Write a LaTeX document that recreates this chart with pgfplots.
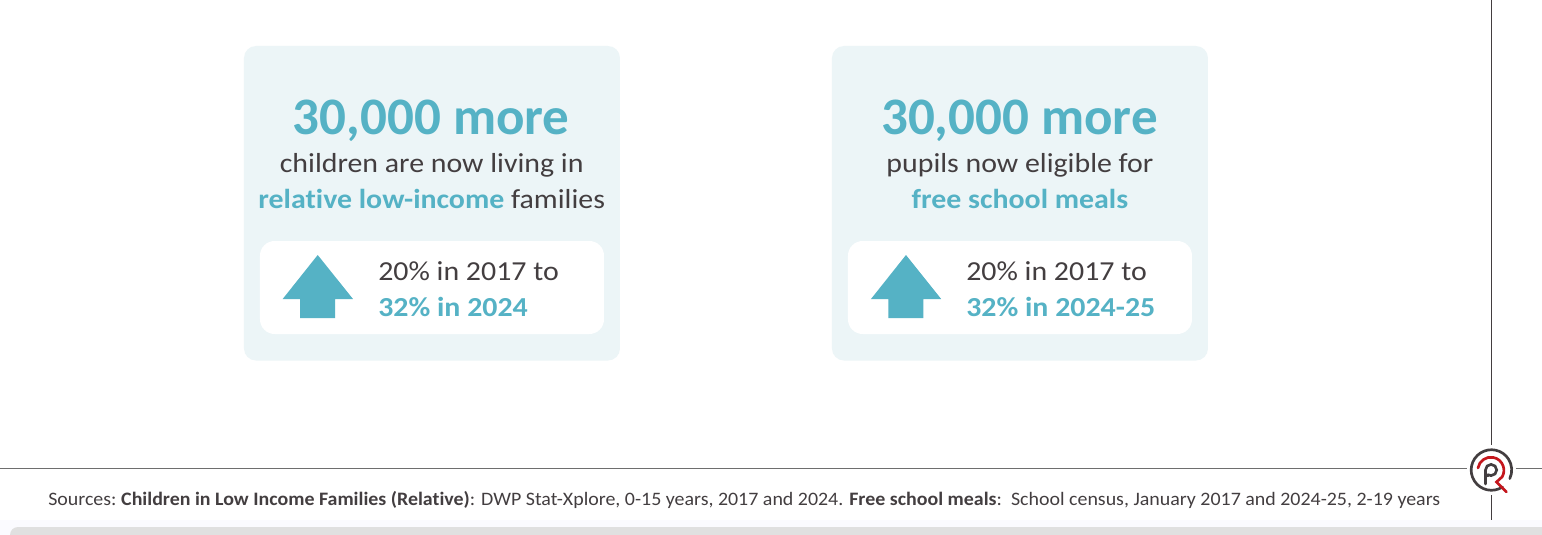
\documentclass[border=0pt]{standalone}
\usepackage{pgfplots}
\usepackage{fontspec}
\setmainfont{Carlito}
\newfontfamily\headf[FakeStretch=1.007,RawFeature=-liga]{Carlito}
\newfontfamily\bodyf[FakeStretch=1.088,RawFeature=-liga]{Carlito}
\newfontfamily\srcf[FakeStretch=1.049,RawFeature=-liga]{Carlito}
\pgfplotsset{compat=1.18}
\definecolor{teal}{HTML}{55B2C5}
\definecolor{boxbg}{HTML}{ECF5F7}
\definecolor{ink}{HTML}{433E40}
\definecolor{rulec}{HTML}{6E6E6E}
\definecolor{logored}{HTML}{C4161C}
\newcommand{\fs}[1]{\fontsize{#1}{#1}\selectfont}
\begin{document}
\begin{tikzpicture}[x=1pt,y=1pt]
\clip (0,0) rectangle (1156.5pt,401.25pt);
\begin{axis}[
  at={(0,0)},anchor=south west,scale only axis,
  width=1156.5pt,height=401.25pt,
  xmin=0,xmax=1542,ymin=0,ymax=535,y dir=reverse,
  axis line style={draw=none},ticks=none,clip=false]
% background strips
\fill[white] (axis cs:0,0) rectangle (axis cs:1542,535);
\fill[white!96!blue!40!white] (axis cs:-2,520) rectangle (axis cs:1545,535);
\fill[color=black!12!white,rounded corners=6pt] (axis cs:10,527) -- (axis cs:1550,527) -- (axis cs:1550,545) -- (axis cs:10,545) -- cycle;
% panels
\fill[boxbg,rounded corners=9pt] (axis cs:244,46) rectangle (axis cs:620,360.5);
\fill[boxbg,rounded corners=9pt] (axis cs:832,46) rectangle (axis cs:1208,360.5);
\fill[white,rounded corners=11pt] (axis cs:260,241) rectangle (axis cs:604,334);
\fill[white,rounded corners=11pt] (axis cs:848,241) rectangle (axis cs:1192,334);
% arrows
\addplot[draw=none,fill=teal] coordinates {(317.7,255) (353,299) (335.2,299) (335.2,318) (300.2,318) (300.2,299) (282.7,299) (317.7,255)};
\addplot[draw=none,fill=teal] coordinates {(906,255) (941.2,299) (923.5,299) (923.5,318) (888.5,318) (888.5,299) (871,299) (906,255)};
% panel 1 text
\node[text=teal,font=\headf\fs{39.5}\bfseries,anchor=base] at (axis cs:431.3,134) {30,000 more};
\node[text=ink,font=\bodyf\fs{20.6},anchor=base] at (axis cs:431.7,172) {children are now living in};
\node[text=ink,font=\bodyf\fs{20.6},anchor=base] at (axis cs:431.7,208) {\textcolor{teal}{\bfseries relative low-income} families};
\node[text=ink,font=\bodyf\fs{20.6},anchor=base west,inner sep=0pt] at (axis cs:378,280) {20\% in 2017 to};
\node[text=teal,font=\bodyf\fs{20.6}\bfseries,anchor=base west,inner sep=0pt] at (axis cs:378,316) {32\% in 2024};
% panel 2 text
\node[text=teal,font=\headf\fs{39.5}\bfseries,anchor=base] at (axis cs:1019.5,134) {30,000 more};
\node[text=ink,font=\bodyf\fs{20.6},anchor=base] at (axis cs:1020,172) {pupils now eligible for};
\node[text=teal,font=\bodyf\fs{20.6}\bfseries,anchor=base] at (axis cs:1020,208) {free school meals};
\node[text=ink,font=\bodyf\fs{20.6},anchor=base west,inner sep=0pt] at (axis cs:966,280) {20\% in 2017 to};
\node[text=teal,font=\bodyf\fs{20.6}\bfseries,anchor=base west,inner sep=0pt] at (axis cs:966,316) {32\% in 2024-25};
% rules
\draw[rulec,line width=0.9pt] (axis cs:-2,468.3) -- (axis cs:1467,468.3);
\draw[rulec,line width=0.9pt] (axis cs:1516,468.3) -- (axis cs:1545,468.3);
\draw[ink,line width=0.9pt] (axis cs:1491.4,-2) -- (axis cs:1491.4,445);
\draw[ink,line width=0.9pt] (axis cs:1491.4,495) -- (axis cs:1491.4,520);
% logo
\draw[ink,line width=2pt,line cap=round] (axis cs:1502.5,487) arc[start angle=-57,end angle=-385,radius=15.2pt];
\draw[logored,line width=2pt,line cap=round] (axis cs:1478,468) arc[start angle=170,end angle=-30,radius=9.8pt] -- (axis cs:1496.5,482) -- (axis cs:1506.5,492);
\draw[ink,line width=2pt,line cap=round] (axis cs:1485.5,484) -- (axis cs:1485.5,470) arc[start angle=180,end angle=-120,radius=4.2pt] -- (axis cs:1487.5,476);
% sources
\node[text=ink,font=\srcf\fs{14.25},anchor=base west,inner sep=0pt] at (axis cs:48,505) {Sources:\hspace{-1pt} \textbf{Children in Low Income Families (Relative)}: DWP Stat-Xplore, 0-15 years, 2017 and 2024. \textbf{Free school meals}:\ \ School census, January 2017 and 2024-25, 2-19 years};
\end{axis}
\end{tikzpicture}
\end{document}
